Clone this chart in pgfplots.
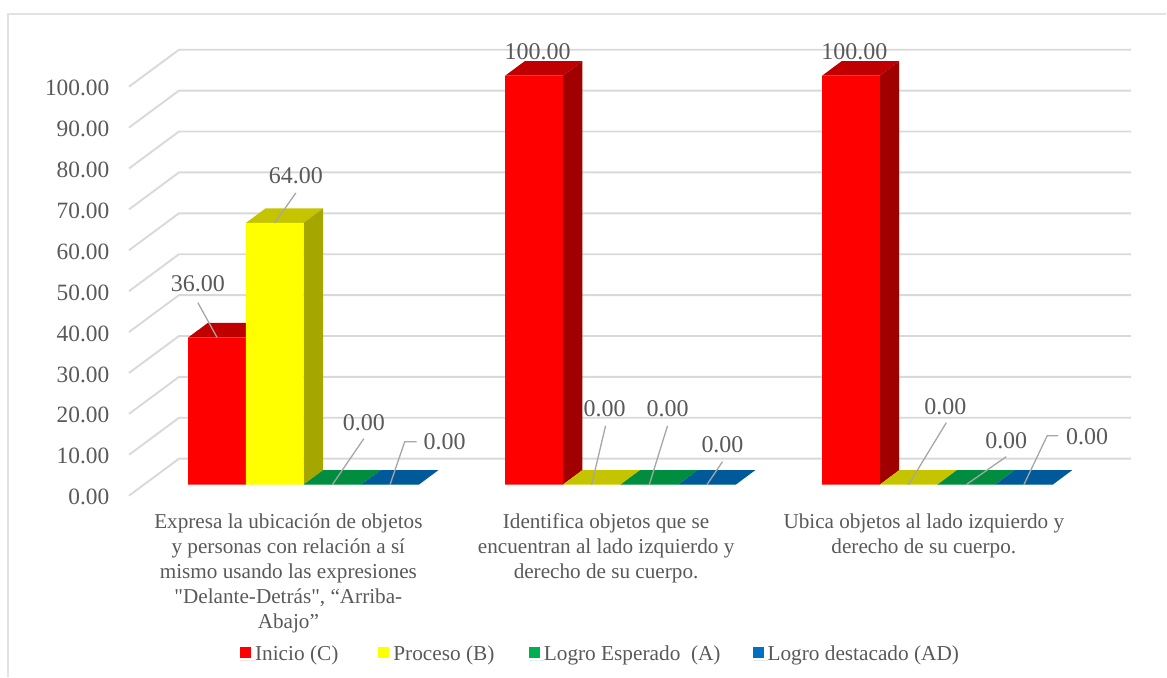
\documentclass[border=0pt]{standalone}
\usepackage{fontspec}
\setmainfont{Liberation Serif}
\newfontfamily\qf{Liberation Serif}
\usepackage{pgfplots}
\pgfplotsset{compat=1.18}
\definecolor{txt}{HTML}{595959}
\definecolor{gridc}{HTML}{D9D9D9}
\definecolor{framec}{HTML}{E2E2E2}
\definecolor{leader}{HTML}{A6A6A6}
\definecolor{cR}{HTML}{FF0000}\definecolor{cRt}{HTML}{C00000}\definecolor{cRs}{HTML}{A00000}
\definecolor{cY}{HTML}{FFFF00}\definecolor{cYt}{HTML}{C4C400}\definecolor{cYs}{HTML}{A6A600}
\definecolor{cG}{HTML}{00B050}\definecolor{cGt}{HTML}{008D40}
\definecolor{cB}{HTML}{0070C0}\definecolor{cBt}{HTML}{005A9A}
\pgfplotsset{
  face/.style={fill=#1,draw=none,forget plot},
  gl/.style={color=gridc,line width=1.9pt,forget plot},
  ll/.style={color=leader,line width=1.3pt,forget plot},
  front/.style={ybar,bar width=57.7,bar shift=0pt,fill=#1,draw=none,
    legend image code/.code={\path (0pt,0pt) rectangle (15pt,0pt);\fill[#1] (0pt,2pt) rectangle (11pt,13pt);}},
}
\tikzset{dl/.style={font=\fontsize{24}{28}\selectfont,text=txt,inner sep=0pt}}
\begin{document}
\begin{tikzpicture}
\begin{axis}[
  scale only axis,width=1167pt,height=677pt,
  xmin=0,xmax=1167,ymin=-46.91,ymax=118.49,
  clip=false,
  axis line style={draw=none},
  major tick length=0pt,
  ytick={0,10,...,100},
  /pgf/number format/assume math mode=true,
  yticklabel style={/pgf/number format/fixed,/pgf/number format/zerofill,/pgf/number format/precision=2,
    font=\fontsize{23.4}{28}\selectfont,text=txt,anchor=east,inner sep=0pt,xshift=109.5pt,yshift=-12.5pt},
  xtick={288.5,606.5,924.5},
  xticklabels={{Expresa la ubicación de objetos\\y personas con relación a sí\\mismo usando las expresiones\\{\qf\char34}Delante-Detrás{\qf\char34}, “Arriba-\\Abajo”},
    {Identifica objetos que se\\encuentran al lado izquierdo y\\derecho de su cuerpo.},
    {Ubica objetos al lado izquierdo y\\derecho de su cuerpo.}},
  xticklabel style={align=center,anchor=north,inner sep=0pt,yshift=163pt,
    font=\fontsize{21.2}{24.9}\selectfont,text=txt},
  legend columns=4,
  legend entries={Inicio (C),Proceso (B),Logro Esperado~~(A),Logro destacado (AD)},
  legend style={at={(240/1167,23/677)},anchor=west,draw=none,fill=none,inner sep=0pt,
    font=\fontsize{21.3}{25}\selectfont,text=txt,
    nodes={inner sep=0pt,anchor=base west},
    /tikz/column 2/.style={column sep=40pt},
    /tikz/column 4/.style={column sep=34.5pt},
    /tikz/column 6/.style={column sep=32pt}},
]
% frame
\addplot[color=framec,line width=1.8pt,forget plot] coordinates {(8,-46.91)(8,115.08)(1167,115.08)};
% gridlines
\addplot[gl] coordinates {(129,-2.69)(179,6.35)(1132,6.35)};
\addplot[gl] coordinates {(129,7.31)(179,16.35)(1132,16.35)};
\addplot[gl] coordinates {(129,17.31)(179,26.35)(1132,26.35)};
\addplot[gl] coordinates {(129,27.31)(179,36.35)(1132,36.35)};
\addplot[gl] coordinates {(129,37.31)(179,46.35)(1132,46.35)};
\addplot[gl] coordinates {(129,47.31)(179,56.35)(1132,56.35)};
\addplot[gl] coordinates {(129,57.31)(179,66.35)(1132,66.35)};
\addplot[gl] coordinates {(129,67.31)(179,76.35)(1132,76.35)};
\addplot[gl] coordinates {(129,77.31)(179,86.35)(1132,86.35)};
\addplot[gl] coordinates {(129,87.31)(179,96.35)(1132,96.35)};
\addplot[gl] coordinates {(129,97.31)(179,106.35)(1132,106.35)};
% group 1 tops and sides
\addplot[face=cRt] coordinates {(188.3,36)(207.8,39.54)(265.5,39.54)(246,36)} --cycle;
\addplot[face=cRs] coordinates {(246,0)(265.5,3.54)(265.5,39.54)(246,36)} --cycle;
\addplot[face=cYt] coordinates {(246,64)(265.5,67.54)(323.2,67.54)(303.7,64)} --cycle;
\addplot[face=cYs] coordinates {(303.7,0)(323.2,3.54)(323.2,67.54)(303.7,64)} --cycle;
\addplot[face=cGt] coordinates {(303.7,0)(323.2,3.54)(380.9,3.54)(361.4,0)} --cycle;
\addplot[face=cBt] coordinates {(361.4,0)(380.9,3.54)(438.6,3.54)(419.1,0)} --cycle;
% group 2
\addplot[face=cRt] coordinates {(505.5,100)(525,103.54)(582.7,103.54)(563.2,100)} --cycle;
\addplot[face=cRs] coordinates {(563.2,0)(582.7,3.54)(582.7,103.54)(563.2,100)} --cycle;
\addplot[face=cYt] coordinates {(563.2,0)(582.7,3.54)(640.4,3.54)(620.9,0)} --cycle;
\addplot[face=cGt] coordinates {(620.9,0)(640.4,3.54)(698.1,3.54)(678.6,0)} --cycle;
\addplot[face=cBt] coordinates {(678.6,0)(698.1,3.54)(755.8,3.54)(736.3,0)} --cycle;
% group 3
\addplot[face=cRt] coordinates {(822.7,100)(842.2,103.54)(899.9,103.54)(880.4,100)} --cycle;
\addplot[face=cRs] coordinates {(880.4,0)(899.9,3.54)(899.9,103.54)(880.4,100)} --cycle;
\addplot[face=cYt] coordinates {(880.4,0)(899.9,3.54)(957.6,3.54)(938.1,0)} --cycle;
\addplot[face=cGt] coordinates {(938.1,0)(957.6,3.54)(1015.3,3.54)(995.8,0)} --cycle;
\addplot[face=cBt] coordinates {(995.8,0)(1015.3,3.54)(1073,3.54)(1053.5,0)} --cycle;
% fronts
\addplot[front=cR] coordinates {(217.15,36)(534.35,100)(851.55,100)};
\addplot[front=cY] coordinates {(274.85,64)(592.05,0)(909.25,0)};
\addplot[front=cG] coordinates {(332.55,0)(649.75,0)(966.95,0)};
\addplot[front=cB] coordinates {(390.25,0)(707.45,0)(1024.65,0)};
% leader lines
\addplot[ll] coordinates {(198,44.47)(217.15,36)};
\addplot[ll] coordinates {(296,71.34)(274.85,64)};
\addplot[ll] coordinates {(364,11.24)(332.55,0)};
\addplot[ll] coordinates {(417,10.51)(405,10.51)(390.25,0)};
\addplot[ll] coordinates {(606,14.41)(592.05,0)};
\addplot[ll] coordinates {(668,14.41)(649.75,0)};
\addplot[ll] coordinates {(723,5.62)(707.45,0)};
\addplot[ll] coordinates {(947,15.15)(909.25,0)};
\addplot[ll] coordinates {(1007,6.84)(966.95,0)};
\addplot[ll] coordinates {(1059,11.97)(1048,11.97)(1024.65,0)};
% data labels
\node[dl] at (axis cs:198,49.11) {36.00};
\node[dl] at (axis cs:296,75.5) {64.00};
\node[dl] at (axis cs:364,15.15) {0.00};
\node[dl] at (axis cs:445,10.51) {0.00};
\node[dl] at (axis cs:538,105.79) {100.00};
\node[dl] at (axis cs:605,18.57) {0.00};
\node[dl] at (axis cs:668,18.57) {0.00};
\node[dl] at (axis cs:723,9.77) {0.00};
\node[dl] at (axis cs:855,105.79) {100.00};
\node[dl] at (axis cs:946,19.06) {0.00};
\node[dl] at (axis cs:1007,10.75) {0.00};
\node[dl] at (axis cs:1088,11.73) {0.00};
\end{axis}
\end{tikzpicture}
\end{document}
